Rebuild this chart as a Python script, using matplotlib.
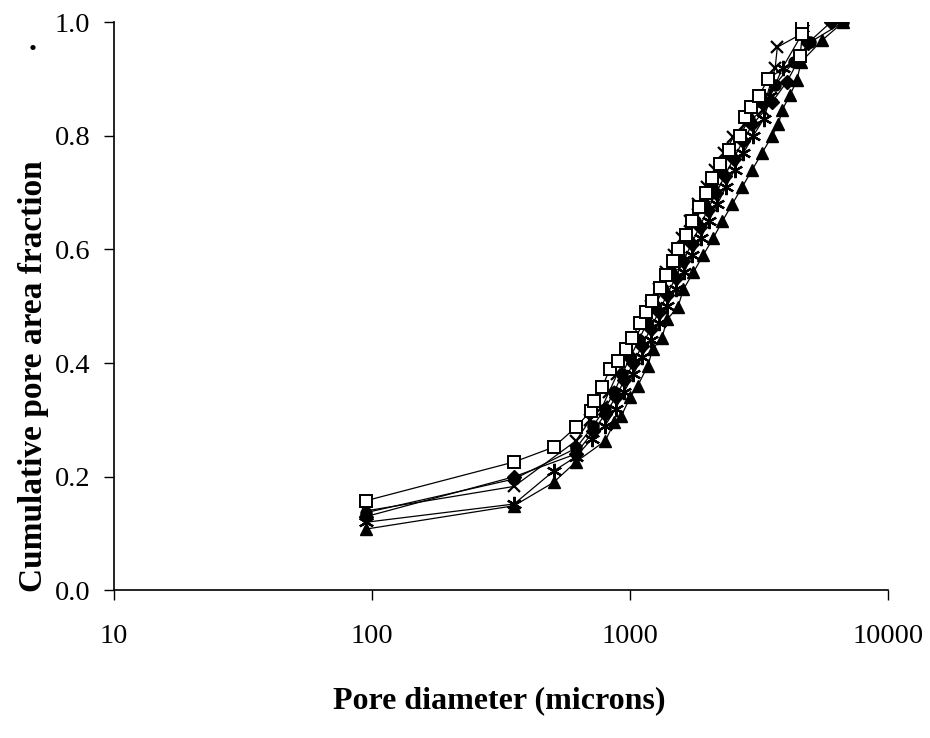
import matplotlib
matplotlib.use("Agg")
import matplotlib.pyplot as plt

plt.rcParams['font.family'] = ['Liberation Serif', 'DejaVu Serif']

# Data (pore diameter in microns, cumulative area fraction)
sq_x = [95, 355, 505, 616, 705, 725, 780, 835, 900, 960, 1020, 1090, 1150, 1220, 1310,
        1380, 1470, 1540, 1640, 1740, 1850, 1960, 2080, 2240, 2420, 2660, 2800, 2940,
        3150, 3430, 4560, 4650, 4650]
sq_y = [0.158, 0.226, 0.252, 0.287, 0.316, 0.333, 0.358, 0.39, 0.404, 0.425, 0.445, 0.47,
        0.49, 0.51, 0.533, 0.555, 0.58, 0.60, 0.625, 0.65, 0.675, 0.70, 0.725, 0.75, 0.775,
        0.80, 0.833, 0.85, 0.87, 0.90, 0.94, 0.98, 1.0]

dia_x = [95, 355, 616, 720, 800, 880, 950, 1030, 1110, 1200, 1290, 1390, 1500, 1610,
         1730, 1860, 2000, 2160, 2330, 2520, 2730, 2980, 3560, 4050, 4880, 6000]
dia_y = [0.13, 0.20, 0.24, 0.28, 0.31, 0.34, 0.37, 0.40, 0.43, 0.46, 0.49, 0.52, 0.55,
         0.58, 0.61, 0.64, 0.67, 0.70, 0.73, 0.76, 0.79, 0.82, 0.86, 0.895, 0.963, 1.0]

tri_x = [95, 355, 505, 616, 800, 870, 925, 1000, 1070, 1170, 1225, 1330, 1390, 1530,
         1610, 1760, 1920, 2100, 2280, 2490, 2720, 2970, 3250, 3550, 3750, 3890, 4170,
         4430, 4600, 5540, 6700]
tri_y = [0.108, 0.149, 0.19, 0.226, 0.263, 0.296, 0.307, 0.34, 0.36, 0.395, 0.425, 0.445,
         0.477, 0.498, 0.53, 0.56, 0.59, 0.62, 0.65, 0.68, 0.71, 0.74, 0.77, 0.80, 0.82,
         0.846, 0.872, 0.898, 0.93, 0.968, 1.0]

x_x = [95, 355, 616, 700, 780, 830, 890, 960, 1040, 1120, 1200, 1290, 1380, 1480, 1590,
       1710, 1840, 1980, 2140, 2320, 2510, 2800, 3270, 3650, 3720, 4650, 4650]
x_y = [0.14, 0.183, 0.263, 0.30, 0.323, 0.35, 0.38, 0.41, 0.44, 0.47, 0.50, 0.53, 0.56,
       0.59, 0.62, 0.65, 0.68, 0.71, 0.74, 0.77, 0.797, 0.82, 0.846, 0.92, 0.956, 0.98, 1.0]

ast_x = [95, 355, 505, 616, 712, 800, 880, 950, 1030, 1110, 1200, 1290, 1390, 1500,
         1620, 1740, 1880, 2020, 2180, 2350, 2540, 2750, 3000, 3300, 3500, 3900, 4650, 4650]
ast_y = [0.12, 0.152, 0.21, 0.235, 0.267, 0.29, 0.32, 0.35, 0.38, 0.41, 0.44, 0.47, 0.50,
         0.53, 0.56, 0.59, 0.62, 0.65, 0.68, 0.71, 0.74, 0.77, 0.80, 0.83, 0.87, 0.92,
         0.98, 1.0]

cir_x = [95, 355, 616, 720, 800, 870, 930, 1000, 1080, 1160, 1250, 1340, 1440, 1550,
         1660, 1790, 1930, 2080, 2250, 2440, 2660, 2900, 3250, 3650, 4300, 5000, 6700]
cir_y = [0.137, 0.196, 0.25, 0.29, 0.32, 0.35, 0.38, 0.41, 0.44, 0.47, 0.50, 0.53, 0.56,
         0.59, 0.62, 0.65, 0.68, 0.71, 0.74, 0.77, 0.80, 0.83, 0.86, 0.89, 0.93, 0.965, 1.0]

x_ticks = [10, 100, 1000, 10000]
y_ticks = [0.0, 0.2, 0.4, 0.6, 0.8, 1.0]

fig = plt.figure(figsize=(9.3, 7.38), dpi=100)
ax = fig.add_axes([0.1226, 0.200, 0.8324, 0.770])

line_kw = dict(color='black', linewidth=0.9)
ax.plot(cir_x, cir_y, marker='o', markersize=8, markerfacecolor='black',
        markeredgecolor='black', **line_kw)
ax.plot(dia_x, dia_y, marker='D', markersize=7.5, markerfacecolor='black',
        markeredgecolor='black', **line_kw)
ax.plot(tri_x, tri_y, marker='^', markersize=9, markerfacecolor='black',
        markeredgecolor='black', **line_kw)
ax.plot(ast_x, ast_y, marker=(6, 2, 0), markersize=11, markeredgewidth=1.6,
        markeredgecolor='black', **line_kw)
ax.plot(x_x, x_y, marker='x', markersize=9, markeredgewidth=1.6,
        markeredgecolor='black', **line_kw)
ax.plot(sq_x, sq_y, marker='s', markersize=9, markerfacecolor='white',
        markeredgecolor='black', markeredgewidth=1.4, **line_kw)

ax.set_xscale('log')
ax.set_xlim(10, 10000)
ax.set_ylim(0, 1.0)
ax.set_xticks(x_ticks)
ax.set_xticklabels([str(t) for t in x_ticks])
ax.minorticks_off()
ax.set_yticks(y_ticks)
ax.set_yticklabels(['%.1f' % t for t in y_ticks])
ax.tick_params(direction='out', length=7, width=1, labelsize=20.5, pad=17)
ax.tick_params(axis='y', pad=10)

ax.spines['top'].set_visible(False)
ax.spines['right'].set_visible(False)
for s in ('left', 'bottom'):
    ax.spines[s].set_linewidth(1.2)

fig.text(0.537, 0.05, 'Pore diameter (microns)', ha='center', va='center',
         fontsize=23, fontweight='bold')
fig.text(0.036, 0.49, 'Cumulative pore area fraction', ha='center', va='center',
         rotation=90, fontsize=24, fontweight='bold')
fig.text(0.035, 0.943, '.', ha='center', va='center', fontsize=23, fontweight='bold')

fig.savefig('out.png', dpi=100)
